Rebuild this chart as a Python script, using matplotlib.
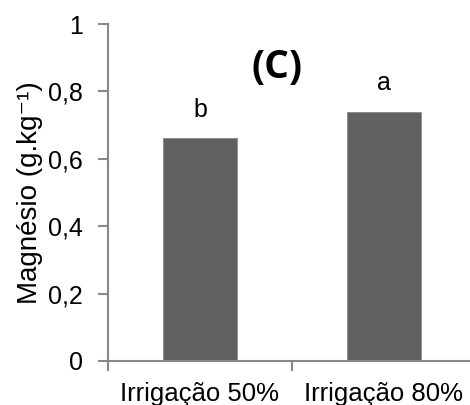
import matplotlib
matplotlib.use('Agg')
import matplotlib.pyplot as plt
import numpy as np

# data
categorias = ['Irrigação 50%', 'Irrigação 80%']
magnesio = [0.661, 0.74]
letras = ['b', 'a']

plt.rcParams['font.family'] = ['Liberation Sans', 'DejaVu Sans']

fig = plt.figure(figsize=(4.7, 4.05), dpi=100)
ax = fig.add_axes([108/470, 44/405, 368/470, 337/405])

x = np.arange(len(categorias))
ax.bar(x, magnesio, width=0.4, color='#616161', edgecolor='#8a8a8a', linewidth=0.6, zorder=2)

for xi, v, l in zip(x, magnesio, letras):
    ax.annotate(l, (xi, v), xytext=(0, 12), textcoords='offset points',
                ha='center', va='bottom', fontsize=18)

ax.set_xlim(-0.5, 1.5)
ax.set_ylim(0, 1)
ax.set_yticks([0, 0.2, 0.4, 0.6, 0.8, 1])
ax.set_yticklabels(['0', '0,2', '0,4', '0,6', '0,8', '1'], fontsize=18)
ax.set_xticks(x)
ax.set_xticklabels(categorias, fontsize=18.5)
ax.tick_params(axis='x', length=0, pad=15)
ax.set_xticks([-0.5, 0.5, 1.5], minor=True)
ax.tick_params(axis='x', which='minor', length=7, width=1.5, color='#888888', direction='out')
ax.tick_params(axis='y', length=7, width=1.5, color='#888888', pad=11)

for s in ['top', 'right']:
    ax.spines[s].set_visible(False)
for s in ['left', 'bottom']:
    ax.spines[s].set_color('#888888')
    ax.spines[s].set_linewidth(1.5)

ax.set_ylabel('Magnésio (g.kg⁻¹)', fontsize=20, labelpad=4)

ax.text(0.418, 0.872, '(C)', ha='center', va='center',
        fontsize=28, fontweight='bold', family=['Open Sans', 'DejaVu Sans'])

fig.savefig('out.png', dpi=100)
